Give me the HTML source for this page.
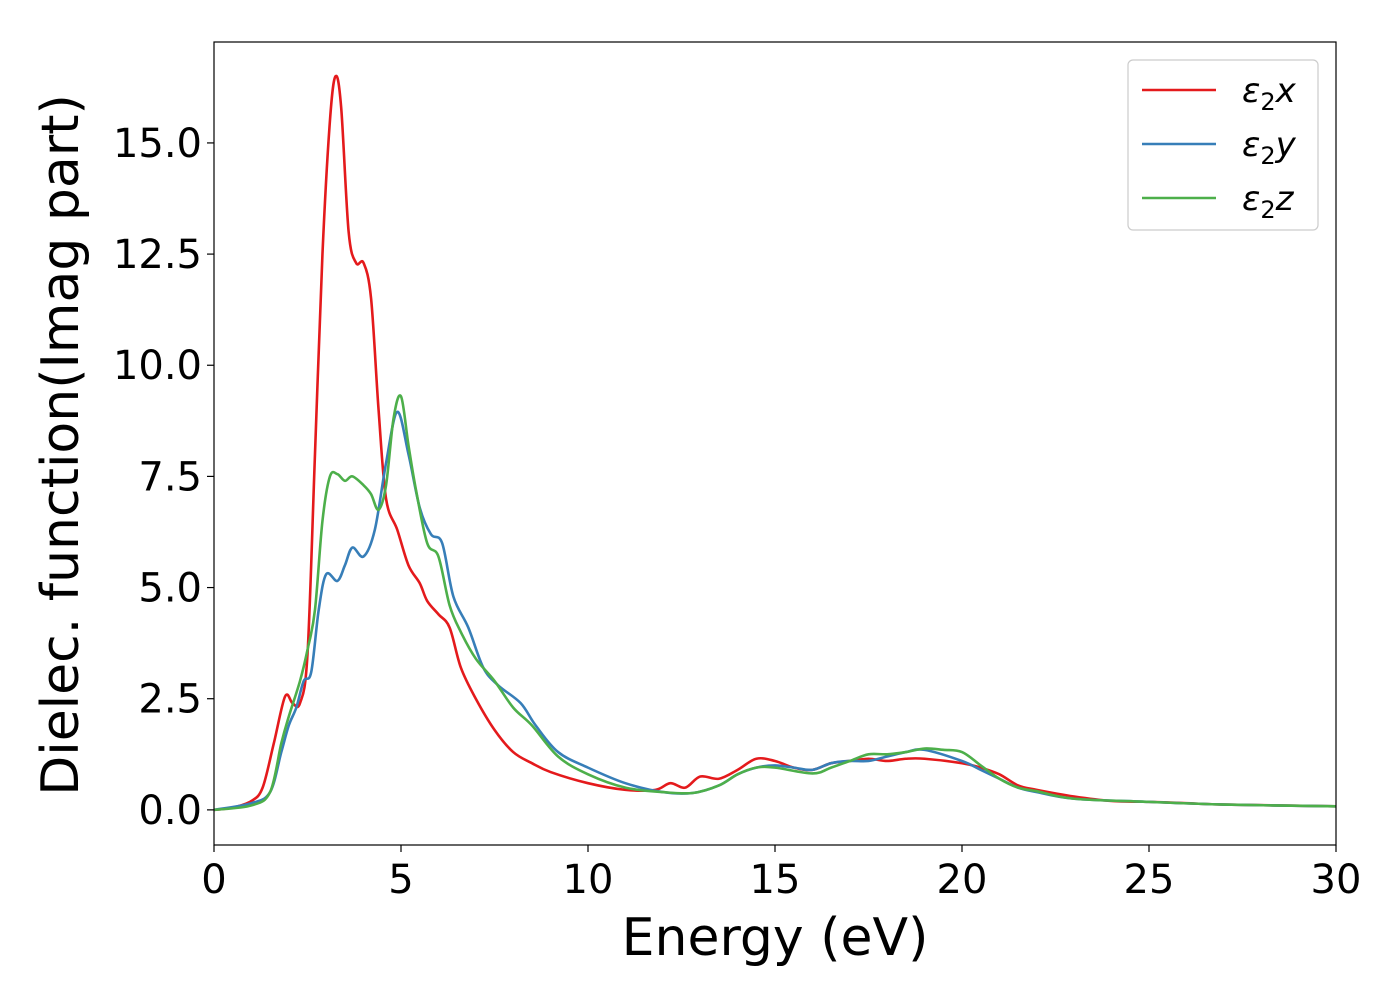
<!DOCTYPE html>
<html><head><meta charset="utf-8"><style>body{margin:0;background:#fff}svg text{font-family:"DejaVu Sans","Liberation Sans",sans-serif}</style></head>
<body>
<svg id="chart" width="1400" height="1000" xmlns="http://www.w3.org/2000/svg">
<g id="plot"></g>
</svg>
<script>
const xTicks=[0,5,10,15,20,25,30];
const yTicks=[0,2.5,5,7.5,10,12.5,15];
const yTickLabels=["0.0","2.5","5.0","7.5","10.0","12.5","15.0"];
const seriesNames=["ε2x","ε2y","ε2z"];
const redE=[0,0.5,1,1.3,1.6,1.9,2.1,2.3,2.5,2.7,2.9,3.1,3.25,3.4,3.6,3.8,4.0,4.2,4.4,4.6,4.9,5.2,5.5,5.7,6.0,6.3,6.6,7.0,7.5,8,8.5,9,10,11,11.8,12.2,12.6,13,13.5,14,14.5,15,15.5,16,16.5,17,17.5,18,18.5,19,20,20.5,21,21.5,22,23,24,25,26,27,30];
const redV=[0,0.05,0.2,0.5,1.5,2.55,2.4,2.4,3.5,8,12.5,15.5,16.5,15.8,13,12.3,12.3,11.5,9,7,6.3,5.5,5.1,4.7,4.4,4.1,3.2,2.5,1.8,1.3,1.05,0.85,0.6,0.45,0.45,0.6,0.5,0.75,0.7,0.9,1.15,1.1,0.95,0.9,1.05,1.1,1.15,1.1,1.15,1.15,1.05,0.95,0.8,0.55,0.45,0.3,0.2,0.18,0.15,0.12,0.08];
const blueE=[0,1,1.5,1.8,2.0,2.2,2.4,2.6,2.8,3.0,3.3,3.5,3.7,4.0,4.3,4.6,4.9,5.2,5.5,5.8,6.1,6.4,6.8,7.2,7.6,8.2,8.6,9.2,10,11,12,12.8,13.5,14,14.5,15,15.5,16,16.5,17,17.5,18,18.5,19,20,20.5,21,21.5,22,23,25,27,30];
const blueV=[0,0.15,0.4,1.3,1.9,2.3,2.9,3.1,4.5,5.3,5.15,5.5,5.9,5.7,6.3,7.8,8.95,8,6.8,6.2,6.0,4.8,4.1,3.2,2.8,2.4,1.9,1.3,0.95,0.6,0.4,0.38,0.55,0.8,0.95,1.0,0.95,0.9,1.05,1.1,1.1,1.2,1.3,1.35,1.1,0.9,0.7,0.5,0.4,0.25,0.18,0.12,0.08];
const greenE=[0,1,1.5,1.8,2.0,2.3,2.5,2.7,2.9,3.1,3.3,3.5,3.7,4.0,4.2,4.4,4.6,4.8,5.0,5.2,5.4,5.7,6.0,6.3,6.6,7.0,7.5,8.0,8.5,9.2,10,11,12,12.8,13.5,14,14.5,15,16,16.5,17,17.5,18,18.5,19,19.5,20,20.5,21,21.5,22,23,25,27,30];
const greenV=[0,0.1,0.4,1.5,2.1,2.9,3.6,4.5,6.5,7.5,7.55,7.4,7.5,7.3,7.1,6.75,7.3,8.8,9.3,8.2,7.2,6.0,5.7,4.6,4.0,3.4,2.9,2.3,1.9,1.2,0.8,0.5,0.4,0.38,0.55,0.8,0.95,0.95,0.82,0.95,1.1,1.25,1.25,1.3,1.38,1.35,1.3,1.0,0.7,0.5,0.42,0.25,0.18,0.12,0.08];
const colors=["#e41a1c","#377eb8","#4daf4a"];
const L=214,R=1336,T=42,B=845;
const xMin=0,xMax=30,yMin=-0.79,yMax=17.27;
const sx=v=>L+(v-xMin)/(xMax-xMin)*(R-L);
const sy=v=>B-(v-yMin)/(yMax-yMin)*(B-T);
const NS="http://www.w3.org/2000/svg";
const g=document.getElementById('plot');
function mk(tag,attrs,parent){const e=document.createElementNS(NS,tag);for(const k in attrs)e.setAttribute(k,attrs[k]);(parent||g).appendChild(e);return e;}
function pathFor(E,V){const p=E.map((e,i)=>[sx(e),sy(V[i])]);let d="M"+p[0][0]+","+p[0][1];
for(let i=0;i<p.length-1;i++){const p0=p[Math.max(0,i-1)],p1=p[i],p2=p[i+1],p3=p[Math.min(p.length-1,i+2)];
const c1=[p1[0]+(p2[0]-p0[0])/6,p1[1]+(p2[1]-p0[1])/6],c2=[p2[0]-(p3[0]-p1[0])/6,p2[1]-(p3[1]-p1[1])/6];
d+=" C"+c1[0].toFixed(2)+","+c1[1].toFixed(2)+" "+c2[0].toFixed(2)+","+c2[1].toFixed(2)+" "+p2[0].toFixed(2)+","+p2[1].toFixed(2);}return d;}
const data=[[redE,redV],[blueE,blueV],[greenE,greenV]];
const lineNames=['series-eps2x-line','series-eps2y-line','series-eps2z-line'];
data.forEach((s,i)=>{const e=mk('path',{d:pathFor(s[0],s[1]),fill:'none',stroke:colors[i],'stroke-width':2.6,'stroke-linejoin':'round'});

});
const frame=mk('rect',{x:L,y:T,width:R-L,height:B-T,fill:'none',stroke:'#000','stroke-width':1.2});


xTicks.forEach(t=>{const x=sx(t);
const tk=mk('line',{x1:x,x2:x,y1:B,y2:B+7,stroke:'#000','stroke-width':1.2});


const tx=mk('text',{x:x,y:B+48,'font-size':40,'text-anchor':'middle'});tx.textContent=t;

});
yTicks.forEach((t,i)=>{const y=sy(t);
const tk=mk('line',{x1:L-7,x2:L,y1:y,y2:y,stroke:'#000','stroke-width':1.2});


const tx=mk('text',{x:L-12,y:y+14,'font-size':40,'text-anchor':'end'});tx.textContent=yTickLabels[i];

});
const xt=mk('text',{x:(L+R)/2,y:955,'font-size':52,'text-anchor':'middle'});xt.textContent="Energy (eV)";


const yt=mk('text',{x:0,y:0,'font-size':52,'text-anchor':'middle',transform:'translate(78,445) rotate(-90)'});yt.textContent="Dielec. function(Imag part)";


const lg=mk('g',{});


mk('rect',{x:1128,y:60,width:190,height:170,rx:5,fill:'#fff',stroke:'#ccc','stroke-width':1.2},lg);
const letters=['x','y','z'];
seriesNames.forEach((n,i)=>{const y=90+i*54;
const ln=mk('line',{x1:1142,x2:1216,y1:y,y2:y,stroke:colors[i],'stroke-width':2.6},lg);


const t=mk('text',{x:1242,y:y+12,'font-size':34,'font-style':'italic'},lg);


const a=document.createElementNS(NS,'tspan');a.textContent='ε';t.appendChild(a);
const b=document.createElementNS(NS,'tspan');b.setAttribute('font-size','24');b.setAttribute('dy','8');b.setAttribute('font-style','normal');b.textContent='2';t.appendChild(b);
const c=document.createElementNS(NS,'tspan');c.setAttribute('dy','-8');c.textContent=letters[i];t.appendChild(c);});
</script>
</body></html>
